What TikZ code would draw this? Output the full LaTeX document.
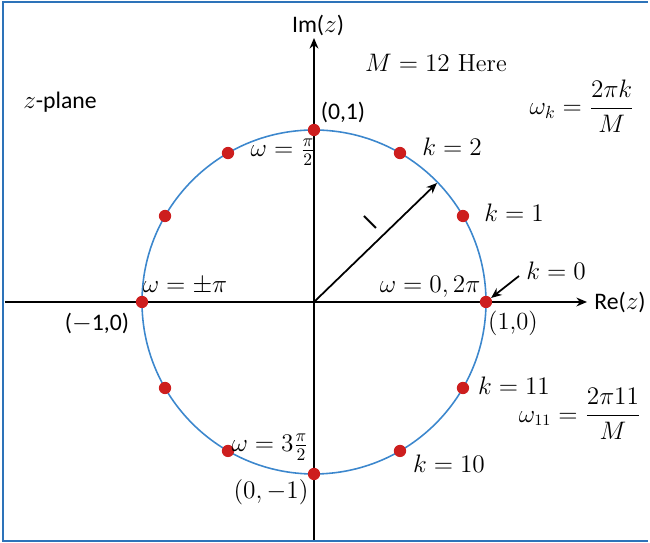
\documentclass[tikz,border=0pt]{standalone}
\usepackage{fontspec}
\usepackage{amsmath}
\newfontfamily\calib{Carlito}
\usetikzlibrary{arrows.meta}
\definecolor{framec}{RGB}{45,115,185}
\definecolor{circc}{RGB}{60,135,205}
\definecolor{dotc}{RGB}{205,30,30}
\tikzset{
  lbl/.style={font=\fontsize{14}{16}\selectfont, inner sep=1pt},
  wlbl/.style={font=\fontsize{13.3}{15}\selectfont, inner sep=1pt},
  slbl/.style={font=\calib\fontsize{13.5}{15}\selectfont, inner sep=1pt},
  axis/.style={line width=1pt, -{Stealth[length=6pt,width=5pt]}},
  circline/.style={draw=circc, line width=0.9pt},
  dotnode/.style={circle, fill=dotc, inner sep=0pt, minimum size=7pt},
  frameline/.style={draw=framec, line width=1.3pt},
}
\begin{document}
\begin{tikzpicture}[x=0.02cm,y=0.02cm]
\useasboundingbox (-314,-241) rectangle (336,302);
% frame
\draw[frameline] (334,300) -- (-311,300) -- (-311,-239) -- (334,-239);
% axes
\coordinate (xl) at (-309,0);
\coordinate (xr) at (273,0);
\coordinate (yb) at (0,-238);
\coordinate (yt) at (0,264);
\coordinate (O) at (0,0);
\draw[axis] (xl) -- (xr);
\draw[axis] (yb) -- (yt);
% unit circle
\draw[circline] (O) circle[radius=172];
% radius arrow
\coordinate (R) at (123,119);
\draw[axis] (O) -- (R);
\node[font=\calib\fontsize{14}{16}\selectfont, rotate=45, inner sep=0pt] (one) at (56,80) {l};
% dots
\foreach \k in {0,...,11}{
  \node[dotnode] (p\k) at (\k*30:172) {};
}
% k=0 arrow
\coordinate (ka) at (205,26);
\draw[axis] (ka) -- (p0);
% labels
\node[slbl] (im) at (4,277) {Im($z$)};
\node[slbl] (re) at (306,0) {Re($z$)};
\node[slbl] (zp) at (-254,200) {$z$-plane};
\node[lbl] (mh) at (122,239) {$M=12$ Here};
\node[slbl] (p01) at (29,190) {(0,1)};
\node[lbl] (wk) at (268,196) {$\omega_k=\dfrac{2\pi k}{M}$};
\node[lbl] (k2) at (138,155) {$k=2$};
\node[lbl] (wpi2) at (-31,150) {$\omega=\frac{\pi}{2}$};
\node[lbl] (k1) at (200,89) {$k=1$};
\node[lbl] (wpi) at (-129,16) {$\omega=\pm\pi$};
\node[lbl] (w0) at (116,15) {$\omega=0,2\pi$};
\node[lbl] (k0) at (242,31) {$k=0$};
\node[lbl] (p10) at (199,-21) {(1,0)};
\node[slbl] (pm10) at (-217,-21) {($-$1,0)};
\node[lbl] (k11) at (200,-84) {$k=11$};
\node[wlbl] (w11) at (266,-112) {$\omega_{11}=\dfrac{2\pi 11}{M}$};
\node[lbl] (w3) at (-44,-145) {$\omega=3\frac{\pi}{2}$};
\node[lbl] (k10) at (135,-162) {$k=10$};
\node[lbl] (p0m1) at (-43,-190) {$(0,-1)$};
\end{tikzpicture}
\end{document}
